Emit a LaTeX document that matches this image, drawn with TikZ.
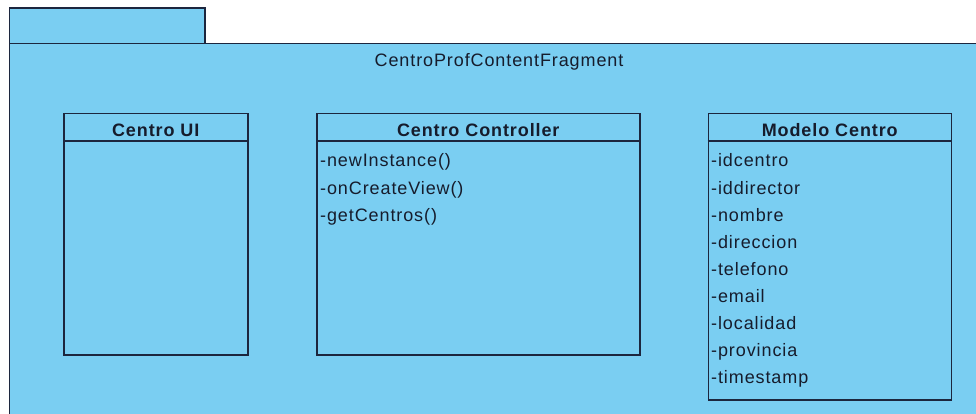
\documentclass[tikz,border=0pt]{standalone}
\usepackage{fontspec}
\newfontfamily\umlfont{Liberation Sans}[LetterSpace=5]
\usetikzlibrary{calc}
\definecolor{pkgfill}{RGB}{122,206,242}
\definecolor{umlline}{RGB}{28,38,62}
\definecolor{umltext}{RGB}{22,28,44}
\tikzset{
  umlshape/.style={draw=umlline, line width=1.5pt, fill=pkgfill},
  classbox/.style={draw=umlline, line width=1.5pt, fill=pkgfill, rectangle, inner sep=0pt, anchor=north west},
  divider/.style={draw=umlline, line width=1.5pt},
  hdr/.style={anchor=base, inner sep=0pt, text=umltext, font=\umlfont\bfseries\fontsize{18}{20}\selectfont},
  item/.style={anchor=base west, inner sep=0pt, text=umltext, font=\umlfont\fontsize{18}{20}\selectfont},
  pkgtitle/.style={anchor=base, inner sep=0pt, text=umltext, font=\umlfont\fontsize{18}{20}\selectfont}
}
\begin{document}
\begin{tikzpicture}[x=1pt, y=-1pt]
\useasboundingbox (0,0) rectangle (976,414);
\fill[white] (0,0) rectangle (976,414);
\begin{scope}
\clip (0,0) rectangle (976,414);
% package tab and body
\draw[umlshape] (9.5,8) rectangle (205,43.5);
\draw[umlshape] (9.5,43.5) rectangle (990,430);
\end{scope}
\node[pkgtitle] (pkg) at (499,67) {CentroProfContentFragment};

% Centro UI
\node[classbox, minimum width=184pt, minimum height=241pt] (ui) at (63,113) {};
\draw[divider] (ui.west |- 0,141) -- (ui.east |- 0,141);
\node[hdr] (uiname) at (ui.north |- 0,137) {Centro UI};

% Centro Controller
\node[classbox, minimum width=323pt, minimum height=241pt] (ctl) at (316,113) {};
\draw[divider] (ctl.west |- 0,141) -- (ctl.east |- 0,141);
\node[hdr] (ctlname) at (ctl.north |- 0,137) {Centro Controller};
\node[item] (c1) at (320,167) {-newInstance()};
\node[item] (c2) at (320,194) {-onCreateView()};
\node[item] (c3) at (320,221) {-getCentros()};

% Modelo Centro
\node[classbox, minimum width=243pt, minimum height=286pt] (mod) at (707.5,113) {};
\draw[divider] (mod.west |- 0,141) -- (mod.east |- 0,141);
\node[hdr] (modname) at (mod.north |- 0,137) {Modelo Centro};
\node[item] (m1) at (711,167) {-idcentro};
\node[item] (m2) at (711,194) {-iddirector};
\node[item] (m3) at (711,221) {-nombre};
\node[item] (m4) at (711,248) {-direccion};
\node[item] (m5) at (711,275) {-telefono};
\node[item] (m6) at (711,302) {-email};
\node[item] (m7) at (711,329) {-localidad};
\node[item] (m8) at (711,356) {-provincia};
\node[item] (m9) at (711,383) {-timestamp};
\end{tikzpicture}
\end{document}
